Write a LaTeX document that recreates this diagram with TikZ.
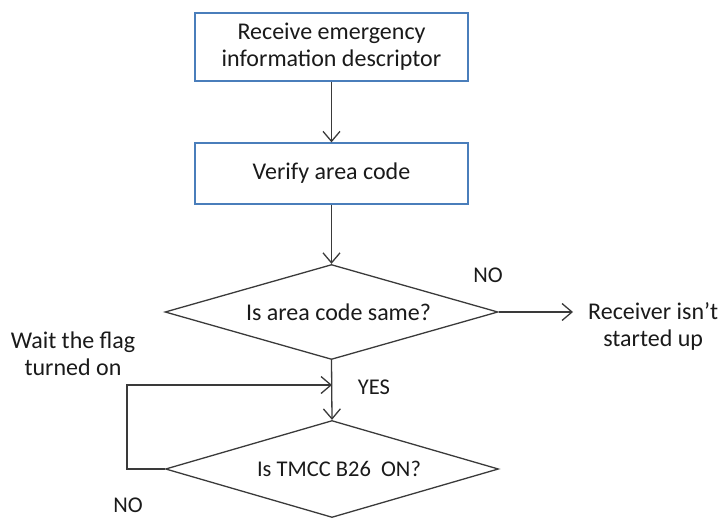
\documentclass[tikz,border=0pt]{standalone}
\usepackage{fontspec}
\setmainfont{Carlito}
\usetikzlibrary{shapes.geometric,arrows.meta}
\definecolor{boxblue}{HTML}{4A7EBB}
\definecolor{linegray}{HTML}{3A3A3A}
\definecolor{txt}{HTML}{1A1A1A}
\tikzset{
  every node/.style={font=\fontsize{24}{27}\selectfont, text=txt},
  small/.style={font=\fontsize{22.5}{27}\selectfont},
  procbox/.style={draw=boxblue, line width=1.3pt, fill=white, rectangle,
    minimum width=273pt, align=center, inner sep=0pt},
  decision/.style={draw=linegray, line width=1.3pt, diamond, aspect=3.5,
    minimum width=333pt, minimum height=95pt, inner sep=0pt},
  plain/.style={inner sep=0pt, align=center},
  conn/.style={draw=linegray, line width=1.3pt},
  arr/.style={conn, -{Straight Barb[length=10pt,width=17pt,line width=1.3pt]}},
}
\begin{document}
\begin{tikzpicture}[x=1pt,y=-1pt]
\useasboundingbox (0,0) rectangle (723,519);

% process steps
\node[procbox, minimum height=68pt] (recv) at (331.5,47)
  {Receive emergency\\information descriptor};
\node[procbox, minimum height=61pt] (verify) at (331.5,173.5) {Verify area code};

% decisions
\node[decision] (same) at (331.5,312) {\hspace*{14pt}Is area code same?};
\node[decision, small, minimum height=97pt] (tmcc) at (332,469)
  {\hspace*{14pt}Is TMCC B26\ \ ON?};

% outcome and labels
\node[plain, anchor=west] (nostart) at (588,326) {Receiver isn’t\\started up};
\node[plain, small] (nolbl1) at (488,275) {NO};
\node[plain, small] (yeslbl) at (374,387) {YES};
\node[plain, small] (nolbl2) at (128,505) {NO};
\node[plain] (waitlbl) at (73,354) {Wait the flag\\turned on};

% loop junction on the main flow
\coordinate (join) at (332,385);

% connectors
\draw[arr] (recv) -- (verify);
\draw[arr] (verify) -- (same);
\draw[arr, shorten >=15pt] (same.east) -- (same.east -| nostart.west);
\draw[arr] (same.south) -- (tmcc.north);
\draw[arr] (tmcc.west) -- ++(-38,0) |- (join);
\end{tikzpicture}
\end{document}
